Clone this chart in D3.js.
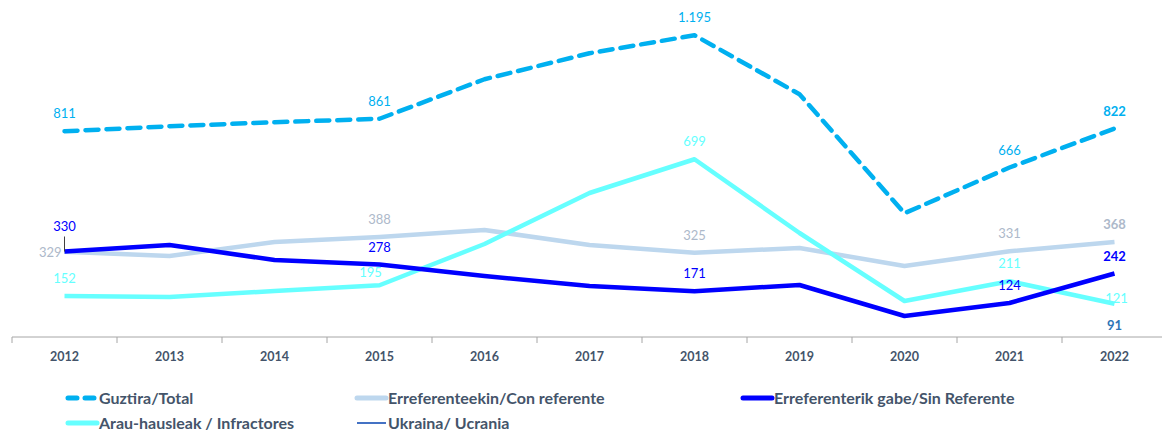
<!DOCTYPE html>
<html lang="eu">
<head>
<meta charset="UTF-8">
<title>Guztira / Total</title>
<script src="https://d3js.org/d3.v7.min.js"></script>
<style>
  body { margin: 0; background: #fff; }
  svg text { font-family: Lato, "Open Sans", sans-serif; }
</style>
</head>
<body>
<svg width="1162" height="436"></svg>
<script>
  const years = ["2012", "2013", "2014", "2015", "2016", "2017", "2018", "2019", "2020", "2021", "2022"];
  const labeledYears = ["2012", "2015", "2018", "2021", "2022"];

  const total = [811, 831, 847, 861, 1019, 1123, 1195, 959, 483, 666, 822];
  const conReferente = [329, 312, 368, 388, 416, 356, 325, 344, 272, 331, 368];
  const sinReferente = [330, 356, 296, 278, 232, 192, 171, 196, 72, 124, 242];
  const infractores = [152, 148, 172, 195, 360, 564, 699, 404, 132, 211, 121];
  const ucrania = [null, null, null, null, null, null, null, null, null, null, 91];

  const series = [
    { name: "Erreferenteekin/Con referente", values: conReferente, color: "#BDD7EE", labelColor: "#ADB9CA", width: 4.5 },
    { name: "Arau-hausleak / Infractores", values: infractores, color: "#66FFFF", labelColor: "#66FFFF", width: 4.5 },
    { name: "Erreferenterik gabe/Sin Referente", values: sinReferente, color: "#0000FF", labelColor: "#0000FF", width: 4.5 },
    { name: "Guztira/Total", values: total, color: "#00B0F0", labelColor: "#00B0F0", width: 4.5, dash: "13 8" },
    { name: "Ukraina/ Ucrania", values: ucrania, color: "#4472C4", labelColor: "#2E75B6", width: 2 }
  ];

  // hand-moved data labels (like in the original chart)
  const labelShift = {
    "Erreferenteekin/Con referente|2012": { dx: -3, dy: 0, anchor: "end" },
    "Erreferenterik gabe/Sin Referente|2012": { dx: 0, dy: -26, leader: true },
    "Arau-hausleak / Infractores|2015": { dx: -9, dy: -13 },
    "Arau-hausleak / Infractores|2022": { dx: 2, dy: -6 },
    "Ukraina/ Ucrania|2022": { dx: 0, dy: 14 }
  };

  const svg = d3.select("svg");

  const x = d3.scaleBand().domain(years).range([12, 1167]);
  const y = d3.scaleLinear().domain([0, 1200]).range([334, 34]);
  const cx = d => x(d) + x.bandwidth() / 2;

  // axis
  const axisY = 337;
  svg.append("line")
    .attr("x1", 12).attr("x2", 1162)
    .attr("y1", axisY).attr("y2", axisY)
    .attr("stroke", "#A6A6A6").attr("stroke-width", 1);

  svg.selectAll(".tick-mark")
    .data(years.concat(["end"]))
    .enter().append("line")
    .attr("x1", (d, i) => 12 + i * x.bandwidth())
    .attr("x2", (d, i) => 12 + i * x.bandwidth())
    .attr("y1", axisY).attr("y2", axisY + 6)
    .attr("stroke", "#A6A6A6");

  svg.selectAll(".year")
    .data(years)
    .enter().append("text")
    .attr("x", d => cx(d))
    .attr("y", 361)
    .attr("text-anchor", "middle")
    .style("font-size", "12.5px")
    .style("font-weight", "bold")
    .attr("fill", "#44546A")
    .text(d => d);

  // lines
  const line = d3.line()
    .defined(d => d.v !== null)
    .x(d => cx(d.year))
    .y(d => y(d.v));

  series.forEach(s => {
    const pts = years.map((yr, i) => ({ year: yr, v: s.values[i] }));
    svg.append("path")
      .datum(pts)
      .attr("fill", "none")
      .attr("stroke", s.color)
      .attr("stroke-width", s.width)
      .attr("stroke-linecap", s.dash ? "round" : "butt")
      .attr("stroke-linejoin", "round")
      .attr("stroke-dasharray", s.dash || null)
      .attr("d", line);
  });

  // data labels
  series.forEach(s => {
    years.forEach((yr, i) => {
      const v = s.values[i];
      if (v === null || !labeledYears.includes(yr)) return;
      const sh = labelShift[s.name + "|" + yr] || { dx: 0, dy: -18 };
      const px = cx(yr), py = y(v);
      if (sh.leader) {
        svg.append("line")
          .attr("x1", px).attr("x2", px)
          .attr("y1", py + sh.dy + 11).attr("y2", py)
          .attr("stroke", "#404040").attr("stroke-width", 1);
      }
      svg.append("text")
        .attr("x", px + sh.dx)
        .attr("y", py + sh.dy + 5)
        .attr("text-anchor", sh.anchor || "middle")
        .style("font-size", "13px")
        .style("font-weight", yr === "2022" && s.values !== infractores ? "bold" : "normal")
        .attr("fill", s.labelColor)
        .text(d3.format(",")(v).replace(/,/g, "."));
    });
  });

  // legend
  const legendItems = [
    { s: series[3], lx: 66, ly: 398 },
    { s: series[0], lx: 355, ly: 398 },
    { s: series[2], lx: 741, ly: 398 },
    { s: series[1], lx: 66, ly: 423 },
    { s: series[4], lx: 355, ly: 423 }
  ];

  legendItems.forEach(it => {
    const isUkr = it.s.name.startsWith("Ukraina");
    svg.append("line")
      .attr("x1", it.lx + 2).attr("x2", it.lx + 31)
      .attr("y1", it.ly).attr("y2", it.ly)
      .attr("stroke", it.s.color)
      .attr("stroke-width", isUkr ? 2 : 5)
      .attr("stroke-linecap", isUkr ? "butt" : "round")
      .attr("stroke-dasharray", it.s.dash ? "9 8" : null);
    svg.append("text")
      .attr("x", it.lx + 33)
      .attr("y", it.ly + 5.5)
      .style("font-size", "16px")
      .style("font-weight", "bold")
      .attr("fill", "#44546A")
      .text(it.s.name);
  });
</script>
</body>
</html>
